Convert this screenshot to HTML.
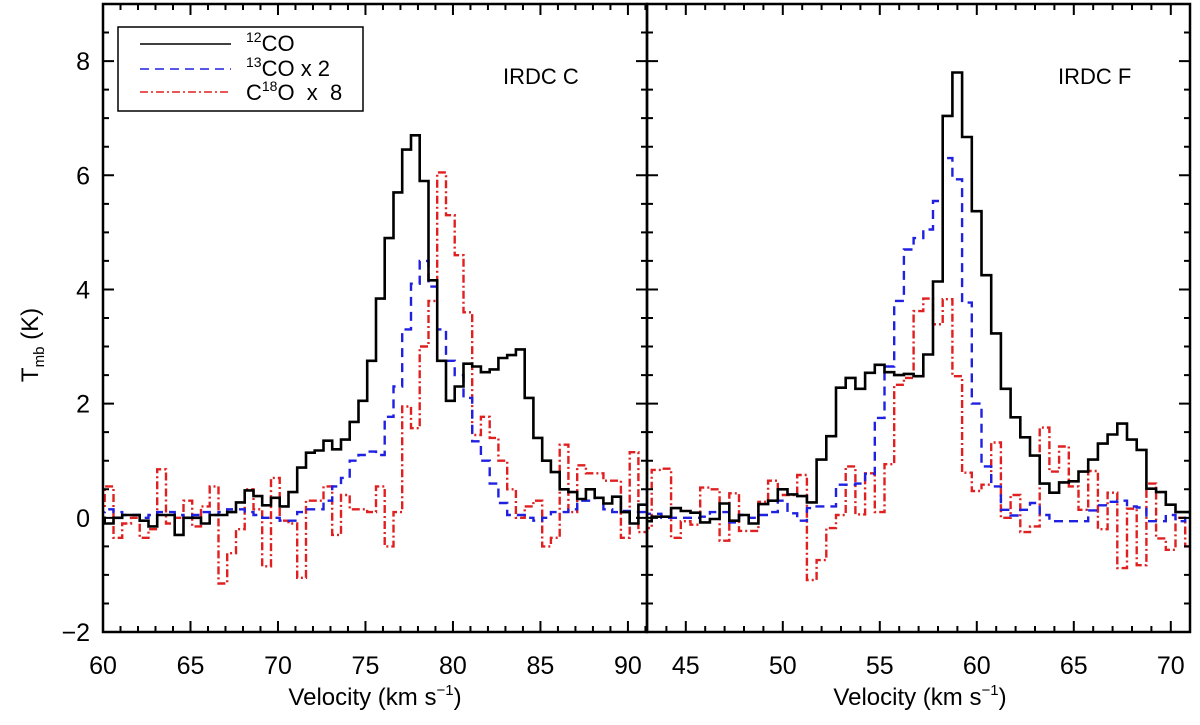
<!DOCTYPE html>
<html><head><meta charset="utf-8"><style>
html,body{margin:0;padding:0;background:#fff;}
svg{display:block;font-family:"Liberation Sans","DejaVu Sans",sans-serif;}
</style></head><body>
<svg id="chart" width="1200" height="725" viewBox="0 0 1200 725" xmlns="http://www.w3.org/2000/svg">
<g id="marks"></g>
<g id="axes"></g>
<g>
<rect x="118" y="27" width="245" height="84" fill="#fff" stroke="#000" stroke-width="1.5"/>
<line x1="140" y1="44" x2="231" y2="44" stroke="#000" stroke-width="1.5"/>
<line x1="140" y1="69" x2="231" y2="69" stroke="#2020e0" stroke-width="1.5" stroke-dasharray="9,6"/>
<line x1="140" y1="92" x2="231" y2="92" stroke="#e02020" stroke-width="1.5" stroke-dasharray="8,3,2,3"/>
<text x="246" y="51" font-size="22"><tspan font-size="14" dy="-9">12</tspan><tspan dy="9">CO</tspan></text>
<text x="246" y="76" font-size="22"><tspan font-size="14" dy="-9">13</tspan><tspan dy="9">CO  x  2</tspan></text>
<text x="246" y="100" font-size="22" xml:space="preserve">C<tspan font-size="14" dy="-9">18</tspan><tspan dy="9">O  x  8</tspan></text>
</g>
<text x="503" y="84" font-size="22">IRDC C</text>
<text x="1058" y="84" font-size="22">IRDC F</text>
<text transform="translate(38,345) rotate(-90)" font-size="24" text-anchor="middle">T<tspan font-size="15" dy="6">mb</tspan><tspan dy="-6"> (K)</tspan></text>
<text x="375" y="705" font-size="24" text-anchor="middle">Velocity (km s<tspan font-size="15" dy="-10">−1</tspan><tspan dy="10">)</tspan></text>
<text x="920" y="705" font-size="24" text-anchor="middle">Velocity (km s<tspan font-size="15" dy="-10">−1</tspan><tspan dy="10">)</tspan></text>
</svg>
<script>
// Left panel (IRDC C) data: channel start velocity, width, values
const leftStart = 59.6;
const leftWidth = 0.5;
const left12co = [0.0,-0.1,0.0,0.05,0.05,-0.05,-0.15,0.05,0.05,-0.3,0.0,0.0,-0.1,0.05,0.05,0.1,0.27,0.48,0.38,0.22,0.35,0.2,0.45,0.88,1.14,1.18,1.35,1.2,1.37,1.68,2.05,2.75,
 3.84,4.9,5.7,6.45,6.7,5.9,4.16,2.75,2.05,2.3,2.7,2.65,2.55,2.6,2.8,2.85,2.95,2.1,1.4,1.0,0.8,0.5,0.45,0.33,0.5,0.35,0.25,0.37,0.1,-0.1,0.23];
const left13co = [0.1,0.15,0.1,0.05,0.05,0.0,0.05,0.1,0.1,0.05,0.0,0.05,0.1,0.05,0.1,0.15,0.15,0.1,0.05,0.0,0.0,-0.05,-0.05,0.1,0.15,0.15,0.3,0.55,0.7,1.0,1.1,1.16,
 1.1,1.77,2.3,3.3,4.1,4.5,4.05,3.3,2.75,2.5,2.1,1.34,1.0,0.6,0.26,0.05,0.05,0.0,-0.05,0.0,0.1,0.1,0.15,0.3,0.3,0.35,0.15,0.1,0.12,0.1,0.1];
const leftc18o = [0.15,0.55,-0.35,-0.1,0.0,-0.35,-0.2,0.85,-0.1,0.0,0.3,-0.15,0.2,0.55,-1.15,-0.62,-0.2,0.5,0.15,-0.85,0.7,-0.05,-0.1,-1.05,0.3,0.3,0.55,-0.3,0.4,0.15,0.15,0.1,
 0.55,-0.5,0.1,1.95,1.57,3.0,3.8,6.05,5.3,4.6,3.6,1.45,1.77,1.4,1.0,0.5,0.0,0.2,0.3,-0.5,-0.35,1.28,0.1,0.92,0.78,0.78,0.65,0.65,-0.35,1.15,-0.25];
// Right panel (IRDC F)
const rightStart = 42.74;
const rightWidth = 0.5;
const right12co = [-0.06,0.02,0.02,0.17,0.12,0.09,-0.08,-0.02,0.25,-0.05,0.05,-0.1,0.24,0.3,0.5,0.41,0.38,0.27,1.02,1.43,2.28,2.45,2.26,2.54,2.68,2.55,2.5,2.52,2.48,
 2.86,4.14,7.04,7.8,6.67,5.37,4.25,3.23,2.26,1.76,1.41,1.09,0.6,0.44,0.62,0.64,0.81,1.02,1.3,1.46,1.65,1.37,1.19,0.51,0.45,0.23,0.1,0.1];
const right13co = [0.07,0.07,0.0,0.0,0.0,0.0,0.02,0.1,0.1,-0.08,0.05,0.0,0.05,0.1,0.3,0.08,-0.05,0.17,0.2,0.2,0.58,0.58,0.6,0.77,1.75,2.65,3.8,4.7,
 4.9,5.05,5.55,6.3,5.93,3.77,2.0,0.9,0.55,0.14,0.04,0.14,0.26,0.05,-0.06,-0.06,-0.06,-0.06,0.13,0.22,0.28,0.3,0.2,0.18,-0.06,-0.06,0.05,-0.06,0.0];
const rightc18o = [-0.18,0.84,0.86,-0.35,-0.06,-0.12,0.53,0.5,-0.4,0.43,-0.23,-0.23,0.28,0.65,0.4,0.4,0.75,-1.09,-0.74,-0.18,0.05,0.9,0.06,0.78,0.1,0.94,2.33,2.45,
 3.62,3.84,3.39,3.83,2.48,0.79,0.47,0.58,1.32,0.0,0.4,-0.25,-0.15,1.58,0.81,1.25,0.55,0.14,0.82,-0.2,0.44,-0.88,0.16,-0.83,0.6,-0.36,-0.56,0.0,-0.5];
const yTicks = [-2,0,2,4,6,8];
const leftXTicks = [60,65,70,75,80,85,90];
const rightXTicks = [45,50,55,60,65,70];

const NS = "http://www.w3.org/2000/svg";
const TOP = 4, BOT = 632, YMIN = -2, YMAX = 9;
const panels = [
  {name:'left', x0:103, x1:647, vmin:60, vmax:91.09, start:leftStart, w:leftWidth, s:[left12co,left13co,leftc18o], ticks:leftXTicks},
  {name:'right', x0:647, x1:1190, vmin:43, vmax:70.99, start:rightStart, w:rightWidth, s:[right12co,right13co,rightc18o], ticks:rightXTicks}
];
function yScale(v){ return BOT - (v - YMIN) / (YMAX - YMIN) * (BOT - TOP); }
function xScale(p, v){ return p.x0 + (v - p.vmin) / (p.vmax - p.vmin) * (p.x1 - p.x0); }
const styles = [
  {c:'#000', d:'', w:2.6, n:'12co'},
  {c:'#2020e0', d:'9,6', w:2.4, n:'13co'},
  {c:'#e02020', d:'8,3,2,3', w:2.4, n:'c18o'}
];
const marks = document.getElementById('marks');
const axes = document.getElementById('axes');
panels.forEach(p => {
  const cp = document.createElementNS(NS,'clipPath');
  cp.setAttribute('id','clip-'+p.name);
  const r = document.createElementNS(NS,'rect');
  r.setAttribute('x',p.x0); r.setAttribute('y',TOP); r.setAttribute('width',p.x1-p.x0); r.setAttribute('height',BOT-TOP);
  cp.appendChild(r); marks.appendChild(cp);
  [2,1,0].forEach(si => {
    const vals = p.s[si];
    let d = '';
    vals.forEach((v,i) => {
      const xa = xScale(p, p.start + i*p.w), xb = xScale(p, p.start + (i+1)*p.w), y = yScale(v);
      d += (i===0 ? 'M' : 'L') + xa.toFixed(1) + ',' + y.toFixed(1) + 'L' + xb.toFixed(1) + ',' + y.toFixed(1);
    });
    const path = document.createElementNS(NS,'path');
    path.setAttribute('d', d);
    path.setAttribute('fill','none');
    path.setAttribute('stroke', styles[si].c);
    path.setAttribute('stroke-width', styles[si].w);
    if (styles[si].d) path.setAttribute('stroke-dasharray', styles[si].d);
    path.setAttribute('clip-path','url(#clip-'+p.name+')');
    
    
    marks.appendChild(path);
  });
  const fr = document.createElementNS(NS,'rect');
  fr.setAttribute('x',p.x0); fr.setAttribute('y',TOP); fr.setAttribute('width',p.x1-p.x0); fr.setAttribute('height',BOT-TOP);
  fr.setAttribute('fill','none'); fr.setAttribute('stroke','#000'); fr.setAttribute('stroke-width','2.5');
  
  
  axes.appendChild(fr);
  let td = '';
  for (let v = Math.ceil(p.vmin); v <= p.vmax; v++) {
    const x = xScale(p, v), L = (v % 5 === 0) ? 11 : 6;
    td += `M${x},${BOT}v${-L}M${x},${TOP}v${L}`;
  }
  for (let k = YMIN*2; k <= YMAX*2; k++) {
    const v = k/2, y = yScale(v), L = (k % 4 === 0) ? 11 : 6;
    td += `M${p.x0},${y}h${L}M${p.x1},${y}h${-L}`;
  }
  const tp = document.createElementNS(NS,'path');
  tp.setAttribute('d', td); tp.setAttribute('stroke','#000'); tp.setAttribute('stroke-width','2');
  
  
  axes.appendChild(tp);
  p.ticks.forEach(t => {
    const tx = document.createElementNS(NS,'text');
    tx.setAttribute('x', xScale(p,t)); tx.setAttribute('y', 674);
    tx.setAttribute('font-size','25'); tx.setAttribute('text-anchor','middle');
    tx.textContent = t;
    
    
    axes.appendChild(tx);
  });
});
yTicks.forEach(t => {
  const tx = document.createElementNS(NS,'text');
  tx.setAttribute('x', 90); tx.setAttribute('y', yScale(t)+9);
  tx.setAttribute('font-size','25'); tx.setAttribute('text-anchor','end');
  tx.textContent = t < 0 ? '\u2212' + Math.abs(t) : t;
  
  
  axes.appendChild(tx);
});
</script>
</body></html>
